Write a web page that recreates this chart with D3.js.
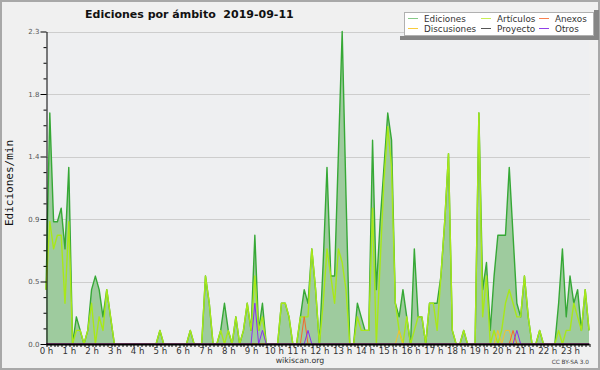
<!DOCTYPE html>
<html>
<head>
<meta charset="utf-8">
<script src="https://cdn.jsdelivr.net/npm/d3@7/dist/d3.min.js"></script>
<style>
body { margin: 0; background: #f0f0f0; }
svg { display: block; }
</style>
</head>
<body>
<svg id="chart" width="600" height="370"></svg>
<script>
// edits per minute, one value per 10 minutes (6 per hour)
var ediciones = [
    0.4, 1.7, 0.9, 0.9, 1.0, 0.7,   // 0 h
    1.3, 0, 0.2, 0.1, 0, 0.1,       // 1 h
    0.4, 0.5, 0.4, 0.2, 0.4, 0.2,   // 2 h
    0, 0, 0, 0, 0, 0,               // 3 h
    0, 0, 0, 0, 0, 0,               // 4 h
    0.1, 0, 0, 0, 0, 0,             // 5 h
    0, 0, 0.1, 0, 0, 0,             // 6 h
    0.5, 0.3, 0, 0, 0.1, 0.3,       // 7 h
    0.1, 0, 0.2, 0, 0.1, 0.3,       // 8 h
    0.1, 0.8, 0.1, 0.3, 0, 0,       // 9 h
    0, 0, 0.3, 0.3, 0.2, 0,         // 10 h
    0, 0.2, 0.4, 0.3, 0.7, 0.4,     // 11 h
    0, 0.6, 1.3, 0.5, 0.5, 1.4,     // 12 h
    2.3, 1.1, 0, 0, 0.3, 0.2,       // 13 h
    0.1, 0.1, 1.5, 0.4, 0.9, 1.3,   // 14 h
    1.7, 1.5, 0.3, 0.2, 0.4, 0.2,   // 15 h
    0, 0.7, 0.2, 0.2, 0, 0.3,       // 16 h
    0.3, 0.3, 0.5, 0.9, 1.4, 0.1,   // 17 h
    0, 0, 0.1, 0, 0, 0,             // 18 h
    1.7, 0.4, 0.6, 0.1, 0.5, 0.8,   // 19 h
    0.8, 0.8, 1.3, 0.8, 0.3, 0.2,   // 20 h
    0.5, 0.2, 0, 0, 0.1, 0,         // 21 h
    0, 0, 0, 0.3, 0.7, 0.2,         // 22 h
    0.5, 0.3, 0.4, 0.1, 0.4, 0.1    // 23 h
];
var articulos = [
    0.4, 0.9, 0.7, 0.8, 0.8, 0.3,
    0.9, 0, 0.1, 0.1, 0, 0.1,
    0.3, 0, 0.2, 0.1, 0.4, 0.2,
    0, 0, 0, 0, 0, 0,
    0, 0, 0, 0, 0, 0,
    0.1, 0, 0, 0, 0, 0,
    0, 0, 0.1, 0, 0, 0,
    0.5, 0.3, 0, 0, 0.1, 0,
    0.1, 0, 0.2, 0, 0.1, 0.3,
    0.1, 0.5, 0.1, 0.2, 0, 0,
    0, 0, 0.3, 0.3, 0.2, 0,
    0, 0.2, 0.2, 0.2, 0.7, 0.4,
    0, 0.3, 0.7, 0.5, 0.3, 0.7,
    0.6, 0.4, 0, 0, 0.2, 0.1,
    0.1, 0.1, 1.0, 0, 0.6, 1.2,
    1.6, 1.3, 0.3, 0.1, 0, 0.2,
    0, 0.1, 0.2, 0.2, 0, 0.3,
    0.3, 0.1, 0.5, 0.9, 1.4, 0.1,
    0, 0, 0.1, 0, 0, 0,
    1.7, 0.2, 0.5, 0, 0.1, 0,
    0.1, 0.3, 0.4, 0.3, 0.2, 0.2,
    0.5, 0.2, 0, 0, 0.1, 0,
    0, 0, 0, 0.1, 0, 0.1,
    0.1, 0.3, 0.2, 0.1, 0.4, 0.1
];
var anexos = [
    0,0,0,0,0,0, 0,0,0,0,0,0, 0,0,0,0,0,0, 0,0,0,0,0,0,
    0,0,0,0,0,0, 0,0,0,0,0,0, 0,0,0,0,0,0, 0,0,0,0,0,0,
    0,0,0,0,0,0, 0,0,0,0,0,0, 0,0,0,0,0,0, 0,0,0.2,0,0,0,
    0,0,0,0,0,0, 0,0,0,0,0,0, 0,0,0,0,0,0, 0,0,0,0,0,0,
    0,0,0,0,0,0, 0,0,0,0,0,0, 0,0,0,0,0,0, 0,0,0,0,0,0,
    0,0,0,0.1,0,0, 0,0,0,0,0,0, 0,0,0,0,0,0, 0,0,0,0,0,0
];
var discusiones = [
    0,0,0,0,0,0, 0,0,0,0,0,0, 0,0,0,0,0,0, 0,0,0,0,0,0,
    0,0,0,0,0,0, 0,0,0,0,0,0, 0,0,0,0,0,0, 0,0,0,0,0,0,
    0,0,0,0,0,0, 0,0,0,0,0,0, 0,0,0,0,0,0, 0,0,0,0,0,0,
    0,0,0,0,0,0, 0,0,0,0,0,0, 0,0,0,0,0,0, 0,0,0,0.1,0,0,
    0,0,0,0,0,0, 0,0,0,0,0,0, 0,0,0,0,0,0, 0,0,0,0,0,0.1,
    0,0.1,0.1,0,0,0, 0,0,0,0,0,0, 0,0,0,0,0,0, 0,0,0,0,0,0
];
var proyecto = [
    0,0,0,0,0,0, 0,0,0,0,0,0, 0,0,0,0,0,0, 0,0,0,0,0,0,
    0,0,0,0,0,0, 0,0,0,0,0,0, 0,0,0,0,0,0, 0,0,0,0,0,0,
    0,0,0,0,0,0, 0,0,0,0,0,0, 0,0,0,0,0,0, 0,0,0,0,0,0,
    0,0,0,0,0,0, 0,0,0,0,0,0, 0,0,0,0,0,0, 0,0,0,0,0,0,
    0,0,0,0,0,0, 0,0,0,0,0,0, 0,0,0,0,0,0, 0,0,0,0,0,0,
    0,0,0,0,0,0, 0,0,0,0,0,0, 0,0,0,0,0,0, 0,0,0,0,0,0
];
var otros = [
    0,0,0,0,0,0, 0,0,0,0,0,0, 0,0,0,0,0,0, 0,0,0,0,0,0,
    0,0,0,0,0,0, 0,0,0,0,0,0, 0,0,0,0,0,0, 0,0,0,0,0,0,
    0,0,0,0,0,0, 0,0.3,0,0.1,0,0, 0,0,0,0,0,0, 0,0,0,0.1,0,0,
    0,0,0,0,0,0, 0,0,0,0,0,0, 0,0,0,0,0,0, 0,0,0,0,0,0,
    0,0,0,0,0,0, 0,0,0,0,0,0, 0,0,0,0,0,0, 0,0,0,0,0,0,
    0,0,0,0,0.1,0, 0,0,0,0,0,0, 0,0,0,0,0,0, 0,0,0,0,0,0
];

var hourLabels = ["0 h","1 h","2 h","3 h","4 h","5 h","6 h","7 h","8 h","9 h","10 h","11 h",
                  "12 h","13 h","14 h","15 h","16 h","17 h","18 h","19 h","20 h","21 h","22 h","23 h"];
var yTickValues = [0, 0.46, 0.92, 1.38, 1.84, 2.3];
var yTickLabels = ["0.0", "0.5", "0.9", "1.4", "1.8", "2.3"];

var legendNames = ["Ediciones", "Artículos", "Anexos", "Discusiones", "Proyecto", "Otros"];
var legendColors = ["#86c986", "#c8ee55", "#f8804f", "#f8cc3c", "#555555", "#9040e8"];

var svg = d3.select("#chart"),
    width = +svg.attr("width"),
    height = +svg.attr("height"),
    plotLeft = 46, plotRight = 589, plotTop = 31.5, plotBottom = 344;

var x = d3.scaleLinear().domain([0, ediciones.length - 1]).range([plotLeft, plotRight]);
var y = d3.scaleLinear().domain([0, 2.3]).range([plotBottom, plotTop]);

// background + frame
svg.append("rect").attr("width", width).attr("height", height).attr("fill", "#f0f0f0");
svg.append("rect").attr("x", plotLeft).attr("y", plotTop).attr("width", plotRight - plotLeft)
    .attr("height", plotBottom - plotTop).attr("fill", "#eeeff1");
svg.append("rect").attr("x", 1).attr("y", 1).attr("width", width - 2).attr("height", height - 2)
    .attr("fill", "none").attr("stroke", "#a8a8a8").attr("stroke-width", 2);

// grid
svg.append("g").selectAll("line").data(yTickValues.slice(1)).enter().append("line")
    .attr("x1", plotLeft).attr("x2", plotRight + 1)
    .attr("y1", function(d) { return Math.round(y(d)) + 0.5; })
    .attr("y2", function(d) { return Math.round(y(d)) + 0.5; })
    .attr("stroke", "#cdcdcd").attr("stroke-width", 1);

var area = d3.area()
    .x(function(d, i) { return x(i); })
    .y0(y(0))
    .y1(function(d) { return y(d); });

var line = d3.line()
    .x(function(d, i) { return x(i); })
    .y(function(d) { return y(d); });

svg.append("path").datum(ediciones).attr("d", area).attr("fill", "#9ecb9e");

var series = [
    { values: ediciones, color: "#36a836", w: 1.4 },
    { values: articulos, color: "#a8e818", w: 1.4 },
    { values: discusiones, color: "#f5c32c", w: 1 },
    { values: proyecto, color: "#555555", w: 1 },
    { values: anexos, color: "#f46a2c", w: 1 },
    { values: otros, color: "#8a2ef0", w: 1 }
];

svg.append("g").selectAll("path").data(series).enter().append("path")
    .attr("d", function(s) { return line(s.values); })
    .attr("fill", "none")
    .attr("stroke", function(s) { return s.color; })
    .attr("stroke-width", function(s) { return s.w; })
    .attr("stroke-linejoin", "round");

// y axis
var yMinor = d3.range(21).map(function(k) { return k * 0.115; });
var yAxis = svg.append("g").attr("transform", "translate(" + (plotLeft + 0.5) + ",0)")
    .call(d3.axisLeft(y).tickValues(yMinor).tickSize(3).tickSizeOuter(0)
        .tickFormat(function(d, i) { return i % 4 === 0 ? yTickLabels[i / 4] : ""; }));
yAxis.select(".domain").attr("stroke", "#000");
yAxis.selectAll(".tick line").attr("stroke", "#000")
    .attr("x2", function(d, i) { return i % 4 === 0 ? -6 : -3; });
yAxis.selectAll(".tick text").attr("x", -7)
    .style("font-family", "DejaVu Sans").style("font-size", "7px").attr("fill", "#555");

// x axis
var xAxis = svg.append("g").attr("transform", "translate(0," + plotBottom + ")")
    .call(d3.axisBottom(x).tickValues(d3.range(ediciones.length)).tickSize(3).tickSizeOuter(0)
        .tickPadding(1)
        .tickFormat(function(d) { return d % 6 === 0 ? hourLabels[d / 6] : ""; }));
xAxis.select(".domain").attr("stroke", "#000").attr("stroke-width", 2);
xAxis.selectAll(".tick line").attr("stroke", "#000")
    .attr("transform", function(d) { return "translate(" + (Math.round(x(d)) + 0.5 - x(d)) + ",0)"; });
xAxis.selectAll(".tick text")
    .style("font-family", "DejaVu Sans").style("font-size", "8.6px").attr("fill", "#333");

// title and labels
svg.append("text").attr("x", 85).attr("y", 18)
    .attr("xml:space", "preserve").style("white-space", "pre")
    .style("font-family", "DejaVu Sans").style("font-weight", "bold").style("font-size", "11px")
    .attr("fill", "#111")
    .text("Ediciones por ámbito  2019-09-11");

svg.append("text").attr("transform", "translate(13,183) rotate(-90)")
    .attr("text-anchor", "middle")
    .style("font-family", "DejaVu Sans Mono").style("font-size", "11px").attr("fill", "#111")
    .text("Ediciones/min");

svg.append("text").attr("x", 300).attr("y", 363).attr("text-anchor", "middle")
    .style("font-family", "DejaVu Sans").style("font-size", "7.8px").attr("fill", "#333")
    .text("wikiscan.org");

svg.append("text").attr("x", 589).attr("y", 364).attr("text-anchor", "end")
    .style("font-family", "DejaVu Sans").style("font-size", "5.8px").attr("fill", "#444")
    .text("CC BY-SA 3.0");

// legend
var lg = svg.append("g");
lg.append("rect").attr("x", 400).attr("y", 36).attr("width", 199).attr("height", 4).attr("fill", "#858585");
lg.append("rect").attr("x", 594).attr("y", 10).attr("width", 5).attr("height", 30).attr("fill", "#858585");
lg.append("rect").attr("x", 404.5).attr("y", 12.5).attr("width", 189).attr("height", 23)
    .attr("fill", "#fff").attr("stroke", "#b0b0b0");

var colX = [408, 481, 539];
var rowY = [18.5, 28.5];
var item = lg.selectAll(".item").data(legendNames).enter().append("g")
    .attr("transform", function(d, i) { return "translate(" + colX[i % 3] + "," + rowY[Math.floor(i / 3)] + ")"; });
item.append("line").attr("x1", 0).attr("x2", 10)
    .attr("stroke", function(d, i) { return legendColors[i]; });
item.append("text").attr("x", 16).attr("y", 3.5)
    .style("font-family", "DejaVu Sans").style("font-size", "8.8px").attr("fill", "#333")
    .text(function(d) { return d; });
</script>
</body>
</html>
